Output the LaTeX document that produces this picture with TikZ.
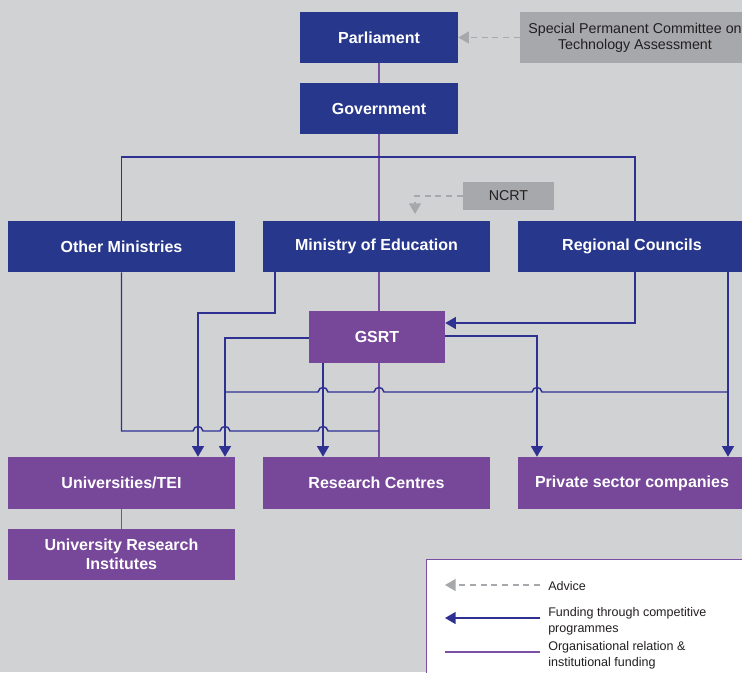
\documentclass[tikz,border=0pt]{standalone}
\usepackage{fontspec}
\setmainfont{Liberation Sans}
\usetikzlibrary{arrows.meta}
\definecolor{bg}{HTML}{D1D2D4}
\definecolor{dblue}{HTML}{27378C}
\definecolor{purp}{HTML}{77479A}
\definecolor{gbox}{HTML}{A7A8AB}
\definecolor{bline}{HTML}{2E3192}
\definecolor{pline}{HTML}{7A4FA3}
\definecolor{gline}{HTML}{A7A8AB}
\definecolor{gtext}{HTML}{231F20}
\tikzset{
  sz/.style 2 args={minimum width={#1*0.75pt},minimum height={#2*0.75pt}},
  bluebox/.style={fill=dblue,text=white,inner sep=0pt,align=center,font=\fontsize{12}{14.5}\selectfont\bfseries},
  purpbox/.style={fill=purp,text=white,inner sep=0pt,align=center,font=\fontsize{12}{14.5}\selectfont\bfseries},
  graybox/.style={fill=gbox,text=gtext,inner sep=0pt,align=center,font=\fontsize{10.7}{12}\selectfont},
  org/.style={draw=pline,line width=0.9pt},
  link/.style={draw=bline,line width=1.1pt},
  fund/.style={link,-{Triangle[width=9pt,length=8pt]}},
  adv/.style={draw=gline,line width=1.1pt,dash pattern=on 4.5pt off 3.5pt,-{Triangle[width=9pt,length=8pt]}},
  legtext/.style={anchor=west,align=left,text=gtext,inner sep=0pt,font=\fontsize{9.4}{12}\selectfont}
}
\begin{document}
\begin{tikzpicture}[x=0.75pt,y=-0.75pt]
\useasboundingbox (0,0) rectangle (742,672);
\clip (0,0) rectangle (742,672);
\fill[bg] (0,0) rectangle (742,672);

% boxes
\node[bluebox,sz={158}{51}] (parl) at (379,37.5) {Parliament};
\node[graybox,sz={230}{51}] (spc) at (635,37.5) {Special Permanent Committee on\\Technology Assessment};
\node[bluebox,sz={158}{51}] (gov) at (379,108.5) {Government};
\node[graybox,sz={91}{28}] (ncrt) at (508.5,196) {NCRT};
\node[bluebox,sz={227}{51}] (om) at (121.5,246.5) {Other Ministries};
\node[bluebox,sz={227}{51}] (moe) at (376.5,246.5) {Ministry of Education};
\node[bluebox,sz={228}{51}] (rcn) at (632,246.5) {Regional Councils};
\node[purpbox,sz={136}{52}] (gsrt) at (377,337) {GSRT};
\node[purpbox,sz={227}{52}] (univ) at (121.5,483) {Universities/TEI};
\node[purpbox,sz={227}{52}] (rc) at (376.5,483) {Research Centres};
\node[purpbox,sz={228}{52}] (priv) at (632,483) {Private sector companies};
\node[purpbox,sz={227}{51},font=\fontsize{12}{14.5}\selectfont\bfseries] (uri) at (121.5,554.5) {University Research\\Institutes};

% bend points
\coordinate (mx) at (379,0);
\coordinate (c635) at (635,157);
\coordinate (om431) at (121.5,431);
\coordinate (moeb) at (275,313);
\coordinate (x198) at (198,0);
\coordinate (g1) at (225,338);
\coordinate (x323) at (323,0);
\coordinate (x537) at (537,0);
\coordinate (rcb) at (635,323);
\coordinate (x728) at (728,392);
\coordinate (nb) at (415,196);
\coordinate (nt) at (415,214);

% organisational relations
\draw[org] (parl) -- (gov);
\draw[org] (gov.south) -- (moe.north -| mx);
\draw[org] (moe.south -| mx) -- (gsrt.north -| mx);
\draw[org] (gsrt.south -| mx) -- (rc.north -| mx);
\draw[org] (univ) -- (uri);

% government distribution
\draw[link] (om.north) -- (om.north |- c635) -- (c635) -- (rcn.north -| c635);

% other ministries
\draw[link] (om.south) -- (om431)
  -- (193,431) .. controls (194,425) and (202,425) .. (203,431)
  -- (220,431) .. controls (221,425) and (229,425) .. (230,431)
  -- (318,431) .. controls (319,425) and (327,425) .. (328,431)
  -- (om431 -| mx);

% regional councils to universities
\draw[link] (x728)
  -- (542,392) .. controls (541,386) and (533,386) .. (532,392)
  -- (384,392) .. controls (383,386) and (375,386) .. (374,392)
  -- (328,392) .. controls (327,386) and (319,386) .. (318,392)
  -- (x728 -| g1);

% funding arrows
\draw[fund] (moe.south -| moeb) -- (moeb) -- (moeb -| x198) -- (univ.north -| x198);
\draw[fund] (gsrt.west |- g1) -- (g1) -- (univ.north -| g1);
\draw[fund] (gsrt.south -| x323) -- (rc.north -| x323);
\draw[fund] (gsrt.east |- 0,336) -- (537,336) -- (priv.north -| x537);
\draw[fund] (rcn.south -| rcb) -- (rcb) -- (rcb -| gsrt.east);
\draw[fund] (rcn.south -| x728) -- (priv.north -| x728);

% advice
\draw[adv] (spc.west) -- (parl.east);
\draw[adv] (ncrt.west) -- (nb) -- (nt);

% legend
\node[draw=pline,fill=white,line width=1pt,anchor=north west,sz={340}{130}] (leg) at (425.5,559) {};
\coordinate (la1) at (540,585);
\coordinate (la2) at (445,585);
\coordinate (lb1) at (540,618);
\coordinate (lb2) at (445,618);
\coordinate (lc1) at (445,652);
\coordinate (lc2) at (540,652);
\draw[adv] (la1) -- (la2);
\draw[fund] (lb1) -- (lb2);
\draw[org] (lc1) -- (lc2);
\node[legtext] (lta) at (548,586) {Advice};
\node[legtext] (ltb) at (548,621) {Funding through competitive\\programmes};
\node[legtext] (ltc) at (548,655) {Organisational relation \&\\institutional funding};
\end{tikzpicture}
\end{document}
